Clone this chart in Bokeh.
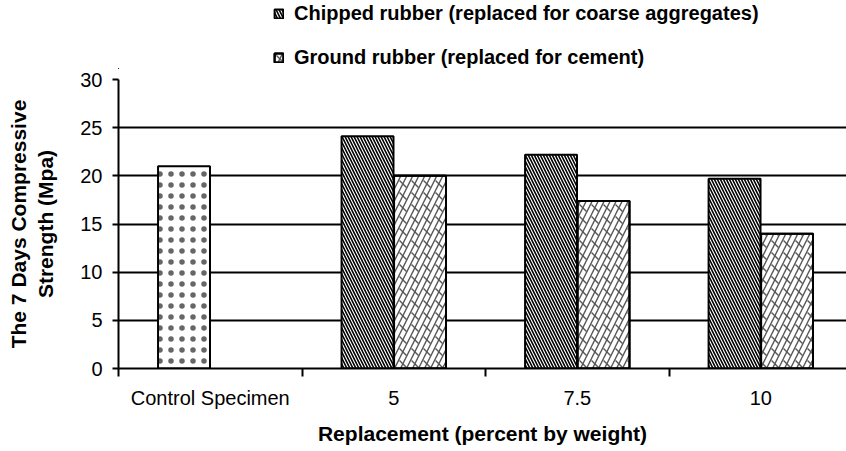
from bokeh.plotting import figure
from bokeh.layouts import column
from bokeh.models import FixedTicker, Legend, LegendItem, Range1d
from bokeh.embed import file_html
from bokeh.resources import INLINE

categories = ["Control Specimen", "5", "7.5", "10"]
control_value = [21]
chipped = [24.1, 22.2, 19.7]
ground = [20.0, 17.4, 14.0]
y_ticks = [0, 5, 10, 15, 20, 25, 30]
series_names = ["Chipped rubber (replaced for coarse aggregates)",
                "Ground rubber (replaced for cement)"]

FONT = "Liberation Sans"

control_style = dict(fill_color="white", line_color="black", line_width=2,
                     hatch_pattern="dot", hatch_scale=11, hatch_color="#666666", hatch_weight=0.8)
chipped_style = dict(fill_color="white", line_color="black", line_width=2,
                     hatch_pattern="left_diagonal_line", hatch_scale=6,
                     hatch_color="black", hatch_weight=1.6)
ground_style_a = dict(fill_color="white", line_color="black", line_width=2,
                      hatch_pattern="right_diagonal_line", hatch_scale=12,
                      hatch_color="#555555", hatch_weight=1.4)
ground_style_b = dict(fill_alpha=0, line_color="black", line_width=2,
                      hatch_pattern="left_diagonal_dash", hatch_scale=12,
                      hatch_color="#555555", hatch_weight=1.4)

centers = [i + 0.5 for i in range(len(categories))]
bw = 0.283
off = 0.143
chipped_x = [c - off for c in centers[1:]]
ground_x = [c + off for c in centers[1:]]

# ---------------- main chart ----------------
p = figure(width=846, height=382, output_backend="svg", toolbar_location=None,
           x_range=Range1d(0, 3.967), y_range=Range1d(0, 30),
           min_border_left=118, min_border_right=0, min_border_top=10, min_border_bottom=83)
p.outline_line_color = None
p.background_fill_color = "white"
p.border_fill_color = "white"

p.vbar(x=[centers[0] - off], top=control_value, width=bw, **control_style)
p.vbar(x=chipped_x, top=chipped, width=bw, **chipped_style)
p.vbar(x=ground_x, top=ground, width=bw, **ground_style_a)
p.vbar(x=ground_x, top=ground, width=bw, **ground_style_b)

p.xaxis.ticker = FixedTicker(ticks=centers, minor_ticks=[0, 1, 2, 3])
p.xaxis.major_label_overrides = {c: l for c, l in zip(centers, categories)}
p.xaxis.major_tick_line_color = None
p.xaxis.major_tick_out = 6
p.xaxis.minor_tick_line_color = "black"
p.xaxis.minor_tick_line_width = 2
p.xaxis.minor_tick_out = 8
p.xaxis.minor_tick_in = 0
p.xaxis.axis_line_width = 2
p.xaxis.axis_label = "Replacement (percent by weight)"
p.xaxis.major_label_standoff = 10
p.xaxis.axis_label_standoff = 10

p.yaxis.ticker = FixedTicker(ticks=y_ticks, minor_ticks=[])
p.yaxis.major_tick_out = 6
p.yaxis.major_tick_in = 0
p.yaxis.major_tick_line_width = 2
p.yaxis.axis_line_width = 2
p.yaxis.axis_label = "The 7 Days Compressive\nStrength (Mpa)"
p.yaxis.major_label_standoff = 10
p.yaxis.axis_label_standoff = 20

for ax in (p.xaxis[0], p.yaxis[0]):
    ax.axis_line_color = "black"
    ax.major_label_text_font = FONT
    ax.major_label_text_font_size = "20px"
    ax.major_label_text_color = "black"
    ax.axis_label_text_font = FONT
    ax.axis_label_text_font_size = "21px"
    ax.axis_label_text_font_style = "bold"
    ax.axis_label_text_color = "black"

p.xgrid.grid_line_color = None
p.ygrid.ticker = FixedTicker(ticks=y_ticks)
p.ygrid.grid_line_color = "black"
p.ygrid.grid_line_width = 2

# ---------------- legend strip above the chart ----------------
# key renderers carry the same series, but lie outside this strip's view range,
# so only their legend swatches are drawn
lg = figure(width=846, height=69, output_backend="svg", toolbar_location=None,
            x_axis_location=None, y_axis_location=None,
            x_range=Range1d(100, 101), y_range=Range1d(100, 101),
            min_border_left=0, min_border_right=0, min_border_top=0, min_border_bottom=0)
lg.outline_line_color = None
lg.grid.visible = False
lg.background_fill_color = "white"
lg.border_fill_color = "white"

k1 = lg.vbar(x=chipped_x, top=chipped, width=bw, **chipped_style)
k2a = lg.vbar(x=ground_x, top=ground, width=bw, **ground_style_a)
k2b = lg.vbar(x=ground_x, top=ground, width=bw, **ground_style_b)

legend = Legend(items=[
    LegendItem(label=series_names[0], renderers=[k1]),
    LegendItem(label=series_names[1], renderers=[k2a, k2b]),
], location=(155, 0))
legend.border_line_color = None
legend.background_fill_alpha = 0
legend.padding = 0
legend.margin = 0
legend.spacing = 21
legend.glyph_width = 11
legend.glyph_height = 11
legend.label_height = 20
legend.label_standoff = 10
legend.label_text_font = FONT
legend.label_text_font_size = "20px"
legend.label_text_font_style = "bold"
legend.label_text_color = "black"
lg.add_layout(legend, "center")

layout = column(lg, p, spacing=0)
open("out.html", "w").write(file_html(layout, INLINE))
